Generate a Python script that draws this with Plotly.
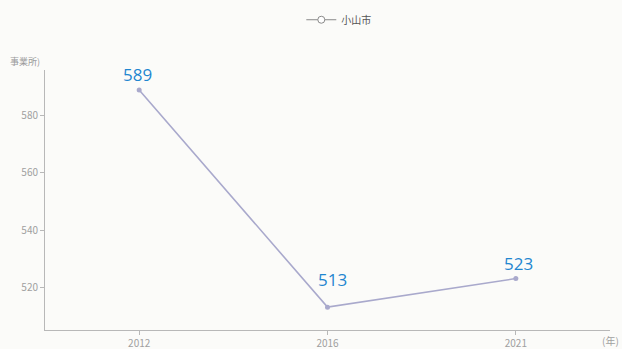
import plotly.graph_objects as go

# Number of establishments in Oyama city by survey year
years = ["2012", "2016", "2021"]
counts = [589, 513, 523]
series_name = "小山市"
y_ticks = [520, 540, 560, 580]

line_color = "#a9a9cc"
label_color = "#1f86d0"
axis_color = "#b8b8b8"
tick_font = dict(family="Noto Sans CJK JP", size=10, color="#a0a0a0")

# small nudges for the value labels (pixels)
label_xshift = [-2, 5, 3]
label_yshift = [2, 14, 2]

fig = go.Figure()

fig.add_trace(go.Scatter(
    x=years,
    y=counts,
    mode="lines+markers",
    name=series_name,
    line=dict(color=line_color, width=1.6),
    marker=dict(size=5, color=line_color, symbol="circle"),
    showlegend=False,
    cliponaxis=False,
))

# legend entry with an open circle marker
fig.add_trace(go.Scatter(
    x=[None], y=[None],
    mode="lines+markers",
    name=series_name,
    line=dict(color="#8a8a8a", width=1),
    marker=dict(size=7, color="white", symbol="circle",
                line=dict(color="#8a8a8a", width=1)),
    showlegend=True,
))

# value labels; category axes place annotations by category index
annotations = [
    dict(x=i, y=v, xref="x", yref="y", text=str(v),
         showarrow=False, yanchor="bottom", yshift=dy, xshift=dx,
         font=dict(family="Open Sans", size=17, color=label_color))
    for i, (v, dx, dy) in enumerate(zip(counts, label_xshift, label_yshift))
]
annotations += [
    dict(text="事業所)", xref="paper", yref="paper",
         x=-0.005, y=1.031, xanchor="right", yanchor="middle",
         showarrow=False,
         font=dict(family="Noto Sans CJK JP", size=9, color="#999")),
    dict(text="(年)", xref="paper", yref="paper",
         x=1.0, y=-0.04, xanchor="center", yanchor="middle",
         showarrow=False,
         font=dict(family="Noto Sans CJK JP", size=10, color="#a0a0a0")),
]

fig.update_layout(
    width=622,
    height=349,
    margin=dict(l=45, r=12, t=70, b=19),
    paper_bgcolor="#fbfbf9",
    plot_bgcolor="#fbfbf9",
    font=dict(family="Noto Sans CJK JP", color="#777"),
    legend=dict(
        orientation="h",
        x=0.52, xanchor="center",
        y=0.985, yanchor="top",
        yref="container",
        font=dict(family="Noto Sans CJK JP", size=10, color="#555"),
        bgcolor="rgba(0,0,0,0)",
    ),
    xaxis=dict(
        type="category",
        range=[-0.5, 2.5],
        automargin=False,
        showgrid=False,
        zeroline=False,
        showline=True,
        linecolor=axis_color,
        linewidth=1,
        ticks="outside",
        ticklen=4,
        tickcolor=axis_color,
        tickfont=tick_font,
        fixedrange=True,
    ),
    yaxis=dict(
        range=[505, 596],
        tickvals=y_ticks,
        automargin=False,
        showgrid=False,
        zeroline=False,
        showline=True,
        linecolor=axis_color,
        linewidth=1,
        ticks="outside",
        ticklen=4,
        tickcolor=axis_color,
        tickfont=tick_font,
        fixedrange=True,
    ),
    annotations=annotations,
)

fig.write_html("out.html")
